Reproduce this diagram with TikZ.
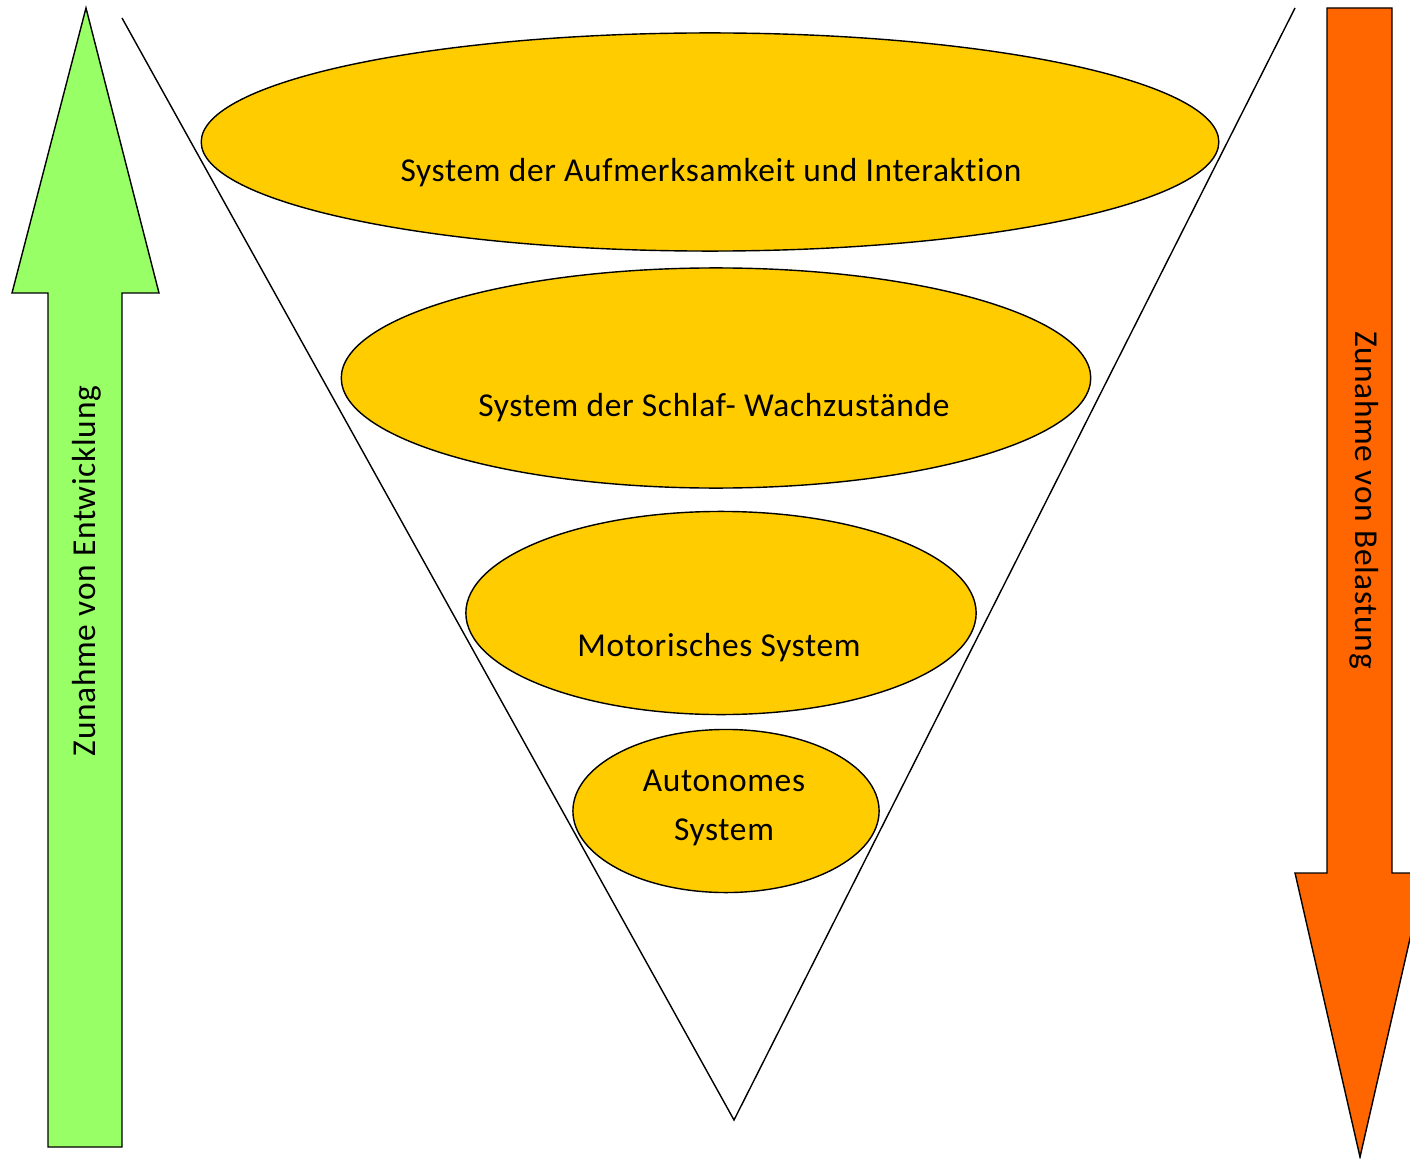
\documentclass[tikz,border=0pt]{standalone}
\usepackage{fontspec}
\setmainfont{Carlito}[LetterSpace=2,Ligatures=NoCommon]
\usetikzlibrary{shapes.geometric}
\definecolor{gelb}{HTML}{FFCC00}
\definecolor{gruen}{HTML}{99FF66}
\definecolor{orange}{HTML}{FF6600}
\begin{document}
\begin{tikzpicture}[x=0.01cm,y=-0.01cm,
    every node/.style={font=\fontsize{9.5}{13.7}\selectfont},
    schicht/.style={ellipse,draw,fill=gelb,inner sep=0pt},
    pfeil/.style={draw,line join=miter}]
  \clip (0,0) rectangle (1410,1158);
  % Pfeile links und rechts
  \filldraw[pfeil,fill=gruen] (86,8) -- (159,293) -- (122,293) -- (122,1147)
    -- (48,1147) -- (48,293) -- (12,293) -- cycle;
  \filldraw[pfeil,fill=orange] (1327,8) -- (1392,8) -- (1392,873) -- (1425,873)
    -- (1360,1157) -- (1295,873) -- (1327,873) -- cycle;
  \node[rotate=90] (Entw) at (87,571) {Zunahme von Entwicklung};
  \node[rotate=-90] (Belast) at (1364,500) {Zunahme von Belastung};
  % Schichten
  \node[schicht,minimum width=10.17cm,minimum height=2.18cm] (S1) at (710,142) {};
  \node[schicht,minimum width=7.49cm,minimum height=2.20cm] (S2) at (716,378) {};
  \node[schicht,minimum width=5.10cm,minimum height=2.03cm] (S3) at (721,613) {};
  \node[schicht,minimum width=3.06cm,minimum height=1.63cm] (S4) at (726,811) {};
  \node (T1) at (711,173) {System der Aufmerksamkeit und Interaktion};
  \node (T2) at (714,408) {System der Schlaf- Wachzustände};
  \node (T3) at (719,648) {Motorisches System};
  \node[align=center] (T4) at (724,808) {Autonomes\\System};
  % Trichter
  \coordinate (Spitze) at (734,1120);
  \draw (122,18) -- (Spitze) -- (1295,8);
\end{tikzpicture}
\end{document}
